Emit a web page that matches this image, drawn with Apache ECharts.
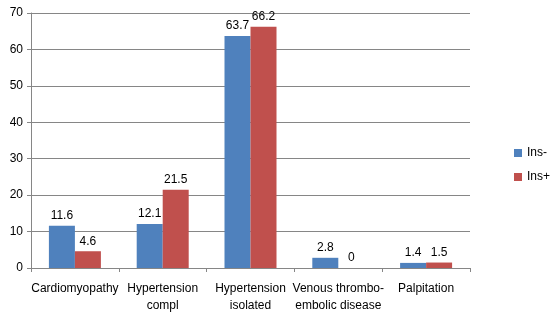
<!DOCTYPE html>
<html>
<head>
<meta charset="utf-8">
<script src="https://cdn.jsdelivr.net/npm/echarts@6/dist/echarts.min.js"></script>
<style>
  html, body { margin: 0; padding: 0; background: #fff; }
  #chart { width: 552px; height: 317px; }
</style>
</head>
<body>
<div id="chart"></div>
<script>
const categories = [
  'Cardiomyopathy',
  'Hypertension\ncompl',
  'Hypertension\nisolated',
  'Venous thrombo-\nembolic disease',
  'Palpitation',
];
const insMinus = [11.6, 12.1, 63.7, 2.8, 1.4];
const insPlus = [4.6, 21.5, 66.2, 0, 1.5];

const chart = echarts.init(document.getElementById('chart'));
const font = 'Liberation Sans, Arial, sans-serif';
const axisGray = '#868686';

const labelStyle = {
  show: true,
  position: 'top',
  distance: 4,
  color: '#000',
  fontSize: 12,
  fontFamily: font,
};

chart.setOption({
  animation: false,
  legend: {
    orient: 'vertical',
    left: 509,
    top: 142,
    itemWidth: 8,
    itemHeight: 8,
    itemGap: 12,
    icon: 'rect',
    textStyle: { fontSize: 12, fontFamily: font, color: '#000' },
    data: ['Ins-', 'Ins+'],
  },
  grid: { left: 31, right: 82, top: 13, bottom: 49 },
  xAxis: {
    type: 'category',
    data: categories,
    axisLine: { lineStyle: { color: axisGray } },
    axisTick: { show: true, length: 4, lineStyle: { color: axisGray } },
    axisLabel: {
      interval: 0,
      margin: 12,
      color: '#000',
      fontSize: 12,
      fontFamily: font,
      lineHeight: 17,
    },
  },
  yAxis: {
    type: 'value',
    min: 0,
    max: 70,
    interval: 10,
    axisLine: { show: true, lineStyle: { color: axisGray } },
    axisTick: { show: true, length: 4, lineStyle: { color: axisGray } },
    splitLine: { lineStyle: { color: axisGray } },
    axisLabel: { color: '#000', fontSize: 12, fontFamily: font, margin: 8 },
  },
  series: [
    {
      name: 'Ins-',
      type: 'bar',
      data: insMinus,
      barWidth: 26,
      barGap: '0%',
      itemStyle: { color: '#4F81BD' },
      label: labelStyle,
    },
    {
      name: 'Ins+',
      type: 'bar',
      data: insPlus,
      barWidth: 26,
      itemStyle: { color: '#C0504D' },
      label: labelStyle,
    },
  ],
});
</script>
</body>
</html>
